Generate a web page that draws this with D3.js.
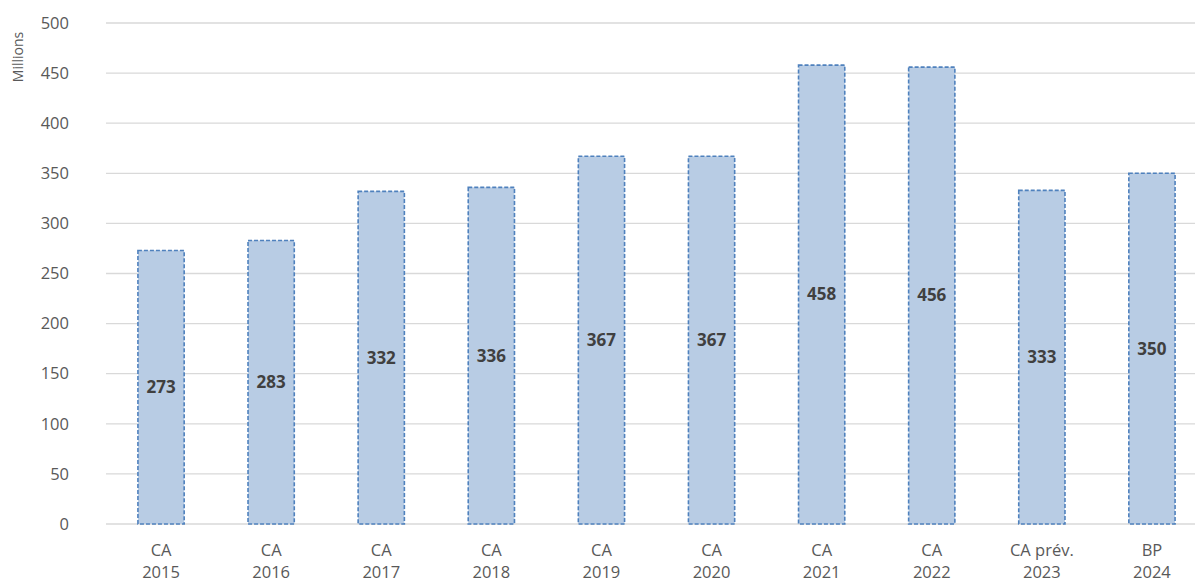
<!DOCTYPE html>
<html>
<head>
<meta charset="utf-8">
<script src="https://cdn.jsdelivr.net/npm/d3@7"></script>
<style>
  body { margin: 0; background: #fff; }
  text { font-family: "Open Sans", "Noto Sans", sans-serif; }
</style>
</head>
<body>
<svg id="chart" width="1195" height="582"></svg>
<script>
// data
const labelTop = ["CA", "CA", "CA", "CA", "CA", "CA", "CA", "CA", "CA prév.", "BP"];
const labelYear = ["2015", "2016", "2017", "2018", "2019", "2020", "2021", "2022", "2023", "2024"];
const values = [273, 283, 332, 336, 367, 367, 458, 456, 333, 350];
const yTicks = [0, 50, 100, 150, 200, 250, 300, 350, 400, 450, 500];

const chartW = 1195, chartH = 582;
const plotLeft = 106, plotRight = 1207, plotTop = 23, plotBottom = 524;

const svg = d3.select("#chart");

const keys = labelYear.map((d, i) => i);
const x = d3.scaleBand().domain(keys).range([plotLeft, plotRight]).paddingInner(0.58).paddingOuter(0.29);
const y = d3.scaleLinear().domain([0, 500]).range([plotBottom, plotTop]);

// gridlines
svg.append("g")
  .selectAll("line")
  .data(yTicks)
  .enter().append("line")
    .attr("x1", plotLeft)
    .attr("x2", chartW)
    .attr("y1", d => y(d))
    .attr("y2", d => y(d))
    .attr("stroke", "#d9d9d9")
    .attr("stroke-width", 1.3);

// y tick labels
svg.append("g")
  .selectAll("text")
  .data(yTicks)
  .enter().append("text")
    .attr("x", 69)
    .attr("y", d => y(d))
    .attr("dy", "0.35em")
    .attr("text-anchor", "end")
    .attr("font-size", 16.5)
    .attr("fill", "#595959")
    .text(d => d);

// axis title
svg.append("text")
  .attr("transform", "translate(23,57) rotate(-90)")
  .attr("text-anchor", "middle")
  .attr("font-size", 14)
  .attr("fill", "#595959")
  .text("Millions");

// bars
svg.append("g")
  .selectAll("rect")
  .data(values)
  .enter().append("rect")
    .attr("x", (d, i) => x(i))
    .attr("y", d => y(d))
    .attr("width", x.bandwidth())
    .attr("height", d => plotBottom - y(d))
    .attr("fill", "#b8cce4")
    .attr("stroke", "#4f81bd")
    .attr("stroke-width", 1.6)
    .attr("stroke-dasharray", "4,2");

// value labels
svg.append("g")
  .selectAll("text")
  .data(values)
  .enter().append("text")
    .attr("x", (d, i) => x(i) + x.bandwidth() / 2)
    .attr("y", d => (y(d) + plotBottom) / 2)
    .attr("dy", "0.35em")
    .attr("text-anchor", "middle")
    .attr("font-size", 17)
    .attr("font-weight", "bold")
    .attr("fill", "#404040")
    .text(d => d);

// x labels, two lines
const xl = svg.append("g")
  .selectAll("text")
  .data(keys)
  .enter().append("text")
    .attr("text-anchor", "middle")
    .attr("font-size", 16.5)
    .attr("fill", "#595959");
xl.append("tspan")
  .attr("x", d => x(d) + x.bandwidth() / 2)
  .attr("y", 556)
  .text(d => labelTop[d]);
xl.append("tspan")
  .attr("x", d => x(d) + x.bandwidth() / 2)
  .attr("y", 578)
  .text(d => labelYear[d]);
</script>
</body>
</html>
